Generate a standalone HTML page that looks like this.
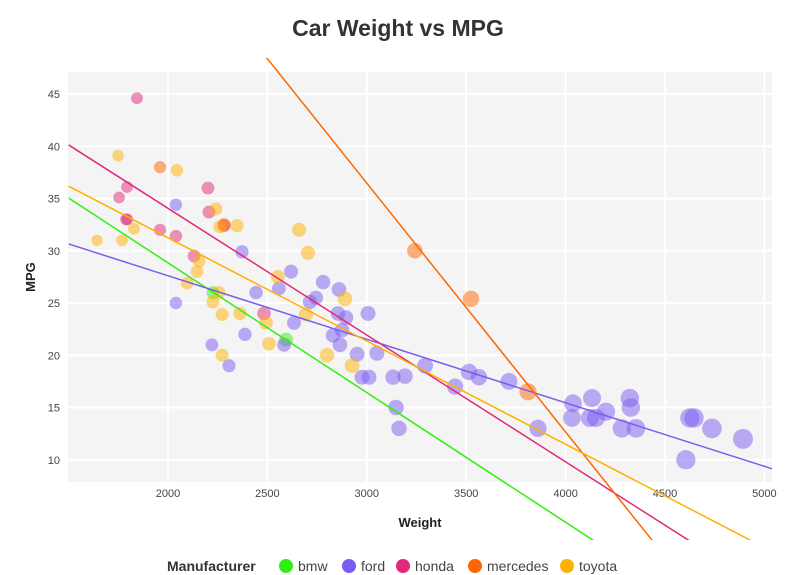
<!DOCTYPE html>
<html><head><meta charset="utf-8"><style>
html,body{margin:0;padding:0;background:#fff;font-family:"Liberation Sans",sans-serif;width:796px;height:575px;overflow:hidden}
svg{display:block}
</style></head><body>
<svg id="chart" width="796" height="575" xmlns="http://www.w3.org/2000/svg" font-family="Liberation Sans, sans-serif">
<defs><clipPath id="lc"><rect x="68" y="58" width="704" height="482"/></clipPath></defs>
<text x="398" y="36" text-anchor="middle" font-size="23" font-weight="bold" fill="#333">Car Weight vs MPG</text>
<rect x="68" y="72" width="704" height="410" fill="#f4f4f4"/>
<g id="grid"></g><g id="ticks"></g><g id="pts"></g><g id="lines" clip-path="url(#lc)"></g>
<text x="420" y="527" text-anchor="middle" font-size="13" font-weight="bold" fill="#222">Weight</text>
<text transform="translate(35,277) rotate(-90)" text-anchor="middle" font-size="13" font-weight="bold" fill="#222">MPG</text>
<g id="legend"></g>
</svg>
<script>
const makes=["bmw","ford","honda","mercedes","toyota"];
const colors=["#33ee11","#7b5cf0","#e0297a","#ff6600","#ffb000"];
const xTicks=[2000,2500,3000,3500,4000,4500,5000];
const yTicks=[10,15,20,25,30,35,40,45];
const bmwW=[2226,2594];const bmwM=[26,21.5];
const fordW=[2040,2040,2221,2307,2372,2387,2443,2558,2619,2584,2634,2714,2744,2780,2860,2855,2895,2830,2875,2865,2951,3006,2976,3011,3051,3132,3192,3147,3162,3293,3444,3514,3564,3715,3861,4037,4032,4122,4133,4153,4203,4283,4323,4328,4354,4605,4625,4646,4736,4892];
const fordM=[34.4,25,21,19,29.9,22,26,26.4,28,21,23.1,25.1,25.5,27,26.3,24,23.6,21.9,22.4,21,20.1,24,17.9,17.9,20.2,17.9,18,15,13,19,17,18.4,17.9,17.5,13,15.4,14,14,15.9,14,14.6,13,15.9,15,13,10,14,14,13,12];
const hondaW=[1844,1754,1794,1789,1795,1960,2040,2201,2206,2282,2131,2483];
const hondaM=[44.6,35.1,36.1,33,33,32,31.4,36,33.7,32.4,29.5,24];
const mercW=[1960,2282,3242,3524,3811];
const mercM=[38,32.5,30,25.4,16.5];
const toyW=[1749,1643,1769,1829,2045,2241,2261,2347,2659,2704,2156,2146,2096,2226,2256,2272,2362,2272,2493,2508,2553,2694,2890,2800,2926];
const toyM=[39.1,31,31,32.1,37.7,34,32.3,32.4,32,29.8,29,28,26.9,25.1,26,23.9,24,20,23.1,21.1,27.5,23.9,25.4,20,19];
const slopes=[-0.01241,-0.00608,-0.01213,-0.02381,-0.00988];
const intercepts=[53.66,39.77,58.32,107.9,51.0];
const X=w=>168+(w-2000)*0.1988, Y=m=>94+(45-m)*10.45;
const NS="http://www.w3.org/2000/svg";
function mk(t,a,p){const e=document.createElementNS(NS,t);for(const k in a)e.setAttribute(k,a[k]);document.getElementById(p).appendChild(e);return e;}
xTicks.forEach(t=>{const l=mk('line',{x1:X(t),x2:X(t),y1:72,y2:482,stroke:'#fff','stroke-width':2},'grid');


const tx=mk('text',{x:X(t),y:497,'text-anchor':'middle','font-size':11,fill:'#444'},'ticks');tx.textContent=t;

});
yTicks.forEach(t=>{const l=mk('line',{x1:68,x2:772,y1:Y(t),y2:Y(t),stroke:'#fff','stroke-width':2},'grid');


const tx=mk('text',{x:60,y:Y(t)+4,'text-anchor':'end','font-size':11,fill:'#444'},'ticks');tx.textContent=t;

});
const series=[[bmwW,bmwM],[fordW,fordM],[hondaW,hondaM],[mercW,mercM],[toyW,toyM]];
series.forEach((s,i)=>{s[0].forEach((w,j)=>{const c=mk('circle',{cx:X(w),cy:Y(s[1][j]),r:3.5+w/750,fill:colors[i],'fill-opacity':0.5},'pts');

});});
makes.forEach((m,i)=>{const w1=1500,w2=5045;const l=mk('line',{x1:X(w1),y1:Y(intercepts[i]+slopes[i]*w1),x2:X(w2),y2:Y(intercepts[i]+slopes[i]*w2),stroke:colors[i],'stroke-width':1.5},'lines');

});
const lt=mk('text',{x:167,y:571,'font-size':14,'font-weight':'bold',fill:'#333'},'legend');lt.textContent='Manufacturer';


const lx=[286,349,403,475,567];
makes.forEach((m,i)=>{const c=mk('circle',{cx:lx[i],cy:566,r:7,fill:colors[i]},'legend');


const t=mk('text',{x:lx[i]+12,y:571,'font-size':14,fill:'#444'},'legend');t.textContent=m;

});
</script>
</body></html>
